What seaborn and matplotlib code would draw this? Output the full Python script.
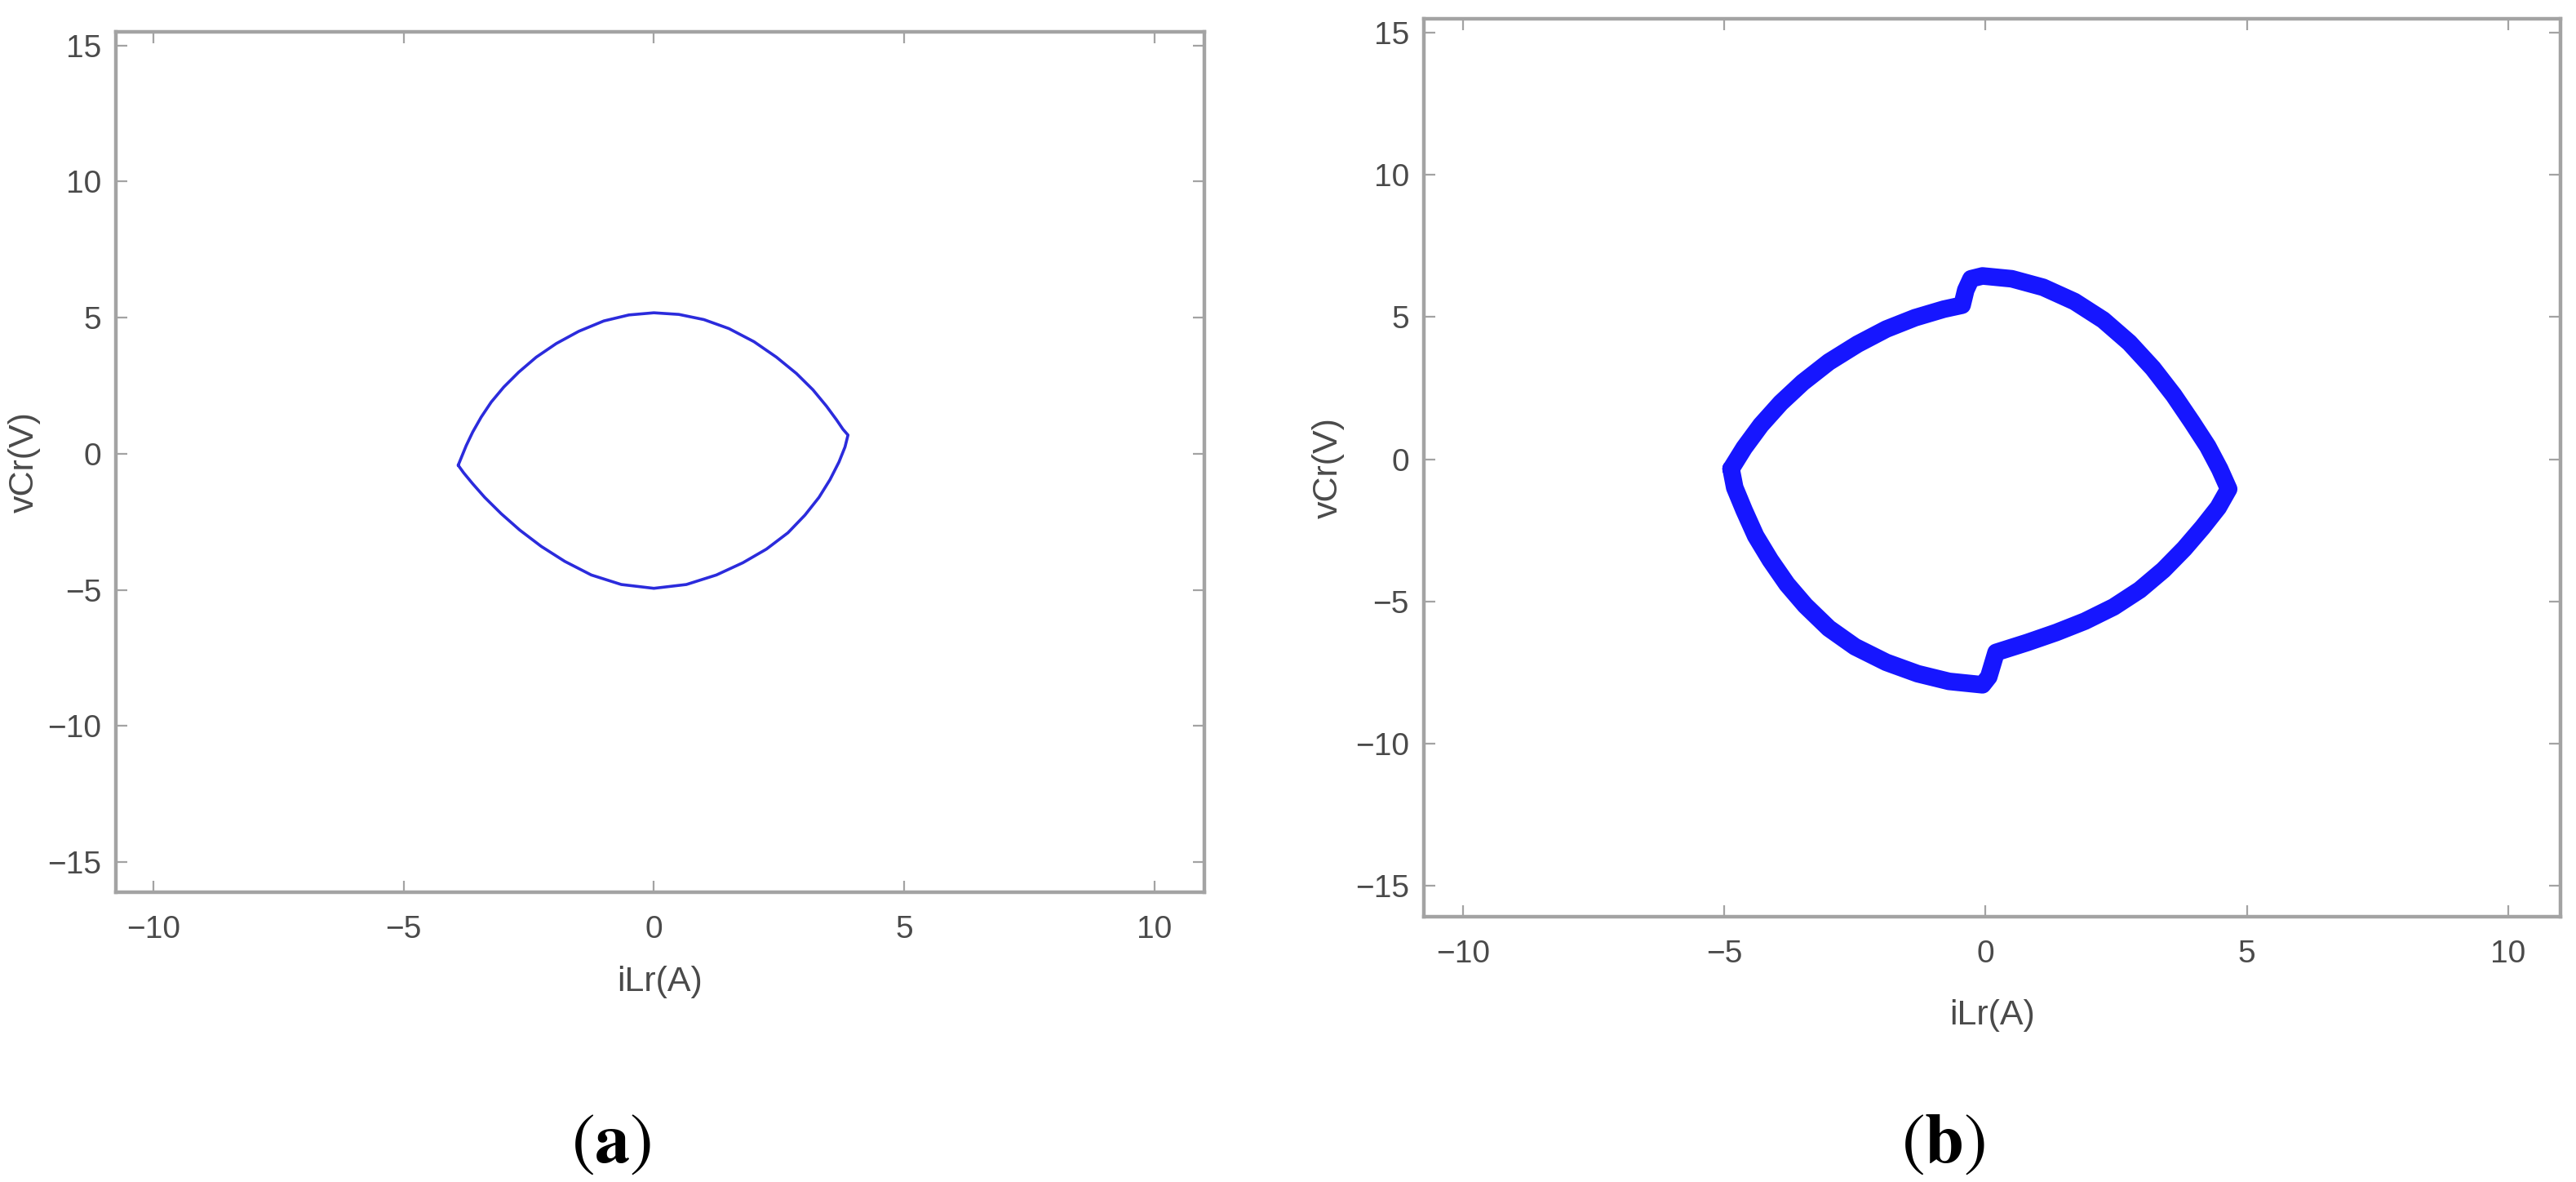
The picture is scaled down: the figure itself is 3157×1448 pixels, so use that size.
import matplotlib
matplotlib.use("Agg")
import matplotlib.pyplot as plt
import seaborn as sns
import pandas as pd

# --- DATA ---
# (a) resonant trajectory iLr vs vCr, upper arc then lower arc
A_UPPER_X = [-3.91, -3.85, -3.75, -3.62, -3.45, -3.25, -3.00, -2.70, -2.35, -1.95, -1.50, -1.00, -0.50,
             0.00, 0.50, 1.00, 1.50, 2.00, 2.45, 2.85, 3.18, 3.45, 3.65, 3.78, 3.88]
A_UPPER_Y = [-0.42, -0.15, 0.30, 0.80, 1.35, 1.90, 2.45, 3.00, 3.55, 4.05, 4.50, 4.88, 5.10,
             5.18, 5.12, 4.93, 4.60, 4.12, 3.55, 2.95, 2.35, 1.75, 1.25, 0.90, 0.69]
A_LOWER_X = [3.88, 3.82, 3.70, 3.52, 3.30, 3.02, 2.68, 2.25, 1.78, 1.25, 0.65, 0.00,
             -0.65, -1.25, -1.78, -2.25, -2.68, -3.05, -3.38, -3.62, -3.80, -3.91]
A_LOWER_Y = [0.69, 0.25, -0.30, -0.95, -1.60, -2.25, -2.90, -3.50, -4.00, -4.45, -4.80, -4.94,
             -4.80, -4.45, -3.95, -3.40, -2.80, -2.20, -1.60, -1.10, -0.70, -0.42]

# (b) trajectory with notches near iLr = 0
B_X = [-4.87, -4.62, -4.30, -3.92, -3.50, -3.00, -2.45, -1.90, -1.35, -0.80, -0.45,
       -0.38, -0.28, -0.06, 0.50, 1.10, 1.70, 2.25, 2.75, 3.20, 3.60, 3.95, 4.25, 4.48, 4.65,
       4.45, 4.15, 3.80, 3.40, 2.95, 2.45, 1.90, 1.35, 0.80, 0.20, 0.06, -0.06,
       -0.70, -1.30, -1.90, -2.50, -3.00, -3.45, -3.80, -4.12, -4.40, -4.62, -4.80, -4.87]
B_Y = [-0.34, 0.40, 1.20, 1.98, 2.70, 3.42, 4.05, 4.58, 4.98, 5.28, 5.42,
       5.95, 6.35, 6.45, 6.35, 6.05, 5.55, 4.90, 4.10, 3.20, 2.25, 1.30, 0.45, -0.35, -1.05,
       -1.70, -2.40, -3.15, -3.90, -4.60, -5.20, -5.70, -6.10, -6.45, -6.80, -7.66, -7.94,
       -7.82, -7.55, -7.15, -6.60, -5.95, -5.15, -4.40, -3.55, -2.70, -1.80, -1.00, -0.34]

X_TICKS = [-10, -5, 0, 5, 10]
Y_TICKS = [-15, -10, -5, 0, 5, 10, 15]
X_LIM = (-10.75, 11.0)
Y_LIM = (-16.1, 15.5)
PANEL_LABELS = ["a", "b"]

# --- STYLE ---
sns.set_theme(style="white")
plt.rcParams["font.family"] = ["Liberation Sans", "DejaVu Sans"]
plt.rcParams["mathtext.fontset"] = "stix"

SPINE_COLOR = "#a3a3a3"
TEXT_COLOR = "#4a4a4a"

fig = plt.figure(figsize=(31.57, 14.48), dpi=100)
ax_a = fig.add_axes([0.0450, 0.2452, 0.4225, 0.7279])
ax_b = fig.add_axes([0.5527, 0.2245, 0.4413, 0.7596])

df_a = pd.DataFrame({"iLr": A_UPPER_X + A_LOWER_X[1:], "vCr": A_UPPER_Y + A_LOWER_Y[1:]})
df_b = pd.DataFrame({"iLr": B_X, "vCr": B_Y})

sns.lineplot(data=df_a, x="iLr", y="vCr", sort=False, estimator=None, ax=ax_a,
             color="#2b2bdc", linewidth=2.6)
sns.lineplot(data=df_b, x="iLr", y="vCr", sort=False, estimator=None, ax=ax_b,
             color="#1616ff", linewidth=15.5)
for ln in ax_b.lines + ax_a.lines:
    ln.set_solid_joinstyle("round")
    ln.set_solid_capstyle("round")

for ax, xlab_y in [(ax_a, -0.104), (ax_b, -0.110)]:
    ax.set_xlim(*X_LIM)
    ax.set_ylim(*Y_LIM)
    ax.set_xticks(X_TICKS)
    ax.set_yticks(Y_TICKS)
    for sp in ax.spines.values():
        sp.set_visible(True)
        sp.set_color(SPINE_COLOR)
        sp.set_linewidth(3.2)
    ax.tick_params(axis="both", direction="in", length=10, width=1.6, color=SPINE_COLOR,
                   labelsize=28, labelcolor=TEXT_COLOR, top=True, right=True,
                   bottom=True, left=True)
    ax.tick_params(axis="x", pad=20)
    ax.tick_params(axis="y", pad=13)
    ax.set_xlabel("iLr(A)", fontsize=31, color=TEXT_COLOR, va="center")
    ax.set_ylabel("vCr(V)", fontsize=31, color=TEXT_COLOR, va="center")
    ax.xaxis.set_label_coords(0.5, xlab_y)
    ax.yaxis.set_label_coords(-0.084, 0.5)

# panel letters
for ax, lab in zip([ax_a, ax_b], PANEL_LABELS):
    pos = ax.get_position()
    fig.text(pos.x0 + pos.width * 0.5 - 0.019, 0.032, r"$(\mathbf{" + lab + r"})$",
             ha="center", va="center", fontsize=62, color="black")

fig.savefig("out.png", dpi=100, facecolor="white")
